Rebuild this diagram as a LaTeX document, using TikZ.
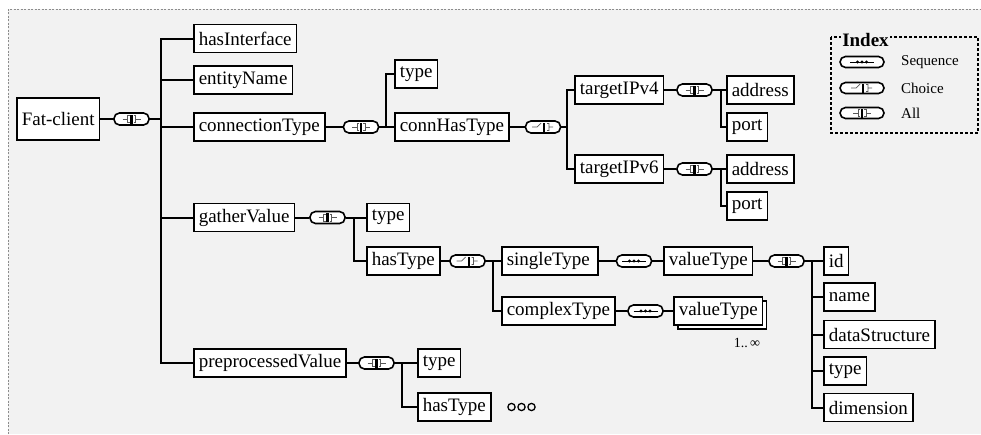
\documentclass[tikz,border=0pt]{standalone}
\usepackage{fontspec}
\setmainfont{Liberation Serif}
\usetikzlibrary{shadows}
\definecolor{diagBack}{HTML}{F2F2F2}
\definecolor{frameGray}{HTML}{8C8C8C}
\colorlet{glyphGray}{black!65}
\tikzset{
  elem/.style={draw, line width=1.6pt, fill=white, anchor=west, minimum height=28pt,
    inner xsep=5pt, inner ysep=2pt, font=\fontsize{19}{22}\selectfont},
  conn/.style={line width=2pt},
  compbox/.style={draw, line width=1.6pt, fill=white, rounded corners=5.5pt,
    minimum width=35pt, minimum height=12pt, inner sep=0pt},
  allsym/.style={compbox, path picture={
    \begin{scope}[shift={(path picture bounding box.center)}, sharp corners]
      \draw[line width=0.7pt, glyphGray] (-9,0) -- (-4,0) (4,0) -- (9,0)
        (-2,-3.5) -- (-4,-3.5) -- (-4,3.5) -- (-2,3.5)
        (2,-3.5) -- (4,-3.5) -- (4,3.5) -- (2,3.5);
      \fill[black] (-1.2,-4.5) rectangle (1.2,4.5);
    \end{scope}}},
  choicesym/.style={compbox, path picture={
    \begin{scope}[shift={(path picture bounding box.center)}, sharp corners]
      \draw[line width=0.7pt, glyphGray] (-11,0) -- (-6,0) -- (-2,-4)
        (4,-3.5) -- (6,-3.5) -- (6,3.5) -- (4,3.5) (6,0) -- (10,0);
      \fill[black] (0,-4.5) rectangle (2.4,4.5);
    \end{scope}}},
  seqsym/.style={compbox, path picture={
    \begin{scope}[shift={(path picture bounding box.center)}, sharp corners]
      \draw[line width=0.8pt] (-12,0) -- (12,0);
      \foreach \dx in {-4.5,0,4.5} \fill[black] (\dx,0) circle [radius=1.7];
    \end{scope}}},
  legtext/.style={anchor=west, inner sep=0pt, font=\fontsize{15}{17}\selectfont}
}

\begin{document}
\begin{tikzpicture}[x=1pt, y=-1pt]
  \useasboundingbox (0,0) rectangle (981,434);
  \fill[diagBack] (8,9) rectangle (981,434);
  \draw[frameGray, line width=0.8pt, dash pattern=on 2pt off 1.5pt] (8,434) -- (8,9) -- (981,9);

  % root and first level
  \node[elem, minimum height=42pt] (fatClient) at (16,119) {Fat-client};
  \node[allsym] (allRoot) at (131.5,119) {};
  \coordinate (brRoot) at (161,119);
  \node[elem] (hasInterface) at (193,38.5) {hasInterface};
  \node[elem] (entityName) at (193,80) {entityName};
  \node[elem] (connectionType) at (193,127) {connectionType};
  \node[elem] (gatherValue) at (193,217.5) {gatherValue};
  \node[elem] (preprocessedValue) at (193,363) {preprocessedValue};

  % connectionType
  \node[allsym] (allConn) at (361,127) {};
  \coordinate (brConn) at (386,127);
  \node[elem] (connTypeType) at (394,74) {type};
  \node[elem] (connHasType) at (394,127) {connHasType};
  \node[choicesym] (choiceConn) at (543,127) {};
  \coordinate (brChoice) at (567,127);
  \node[elem] (targetIPv4) at (574,90) {targetIPv4};
  \node[elem] (targetIPv6) at (574,169) {targetIPv6};
  \node[allsym] (allIPv4) at (694.5,90) {};
  \coordinate (brIPv4) at (721,90);
  \node[elem] (addressA) at (726,90) {address};
  \node[elem] (portA) at (726,127) {port};
  \node[allsym] (allIPv6) at (694.5,169) {};
  \coordinate (brIPv6) at (721,169);
  \node[elem] (addressB) at (726,169) {address};
  \node[elem] (portB) at (726,206) {port};

  % gatherValue
  \node[allsym] (allGather) at (327.5,217.5) {};
  \coordinate (brGather) at (354,217.5);
  \node[elem] (gatherType) at (366,217.5) {type};
  \node[elem] (gatherHasType) at (366,261) {hasType};
  \node[choicesym] (choiceGather) at (467.5,261) {};
  \coordinate (brHasType) at (493,261);
  \node[elem, text width=86pt, align=left] (singleType) at (501,261) {singleType};
  \node[elem] (complexType) at (501,311) {complexType};
  \node[seqsym] (seqSingle) at (634,261) {};
  \node[elem] (valueTypeA) at (663,261) {valueType};
  \node[seqsym] (seqComplex) at (645.5,311) {};
  \node[elem, copy shadow={shadow xshift=4pt, shadow yshift=-4pt, draw=black, fill=white, line width=1.6pt}]
    (valueTypeB) at (673,311) {valueType};
  \node[font=\fontsize{14}{16}\selectfont, inner sep=0pt] (multLabel) at (747,343) {1..\,∞};
  \node[allsym] (allValue) at (786.5,261) {};
  \coordinate (brValue) at (812,261);
  \node[elem] (valId) at (823,261) {id};
  \node[elem] (valName) at (823,297) {name};
  \node[elem] (valStruct) at (823,334.5) {dataStructure};
  \node[elem] (valType) at (823,371) {type};
  \node[elem] (valDim) at (823,407.5) {dimension};

  % preprocessedValue
  \node[allsym] (allPre) at (376.5,363) {};
  \coordinate (brPre) at (402,363);
  \node[elem] (preType) at (417,363) {type};
  \node[elem] (preHasType) at (417,407) {hasType};
  \foreach \cx in {511.5,521.5,531.5}
    \draw[line width=1.3pt] (\cx,407) circle [radius=3.6];

  % connectors
  \draw[conn] (fatClient.east) -- (allRoot.west);
  \draw[conn] (allRoot.east) -- (brRoot);
  \foreach \n in {hasInterface,entityName,connectionType,gatherValue,preprocessedValue}
    \draw[conn] (brRoot) |- (\n.west);
  \draw[conn] (connectionType.east) -- (allConn.west);
  \draw[conn] (allConn.east) -- (brConn);
  \foreach \n in {connTypeType,connHasType}
    \draw[conn] (brConn) |- (\n.west);
  \draw[conn] (connHasType.east) -- (choiceConn.west);
  \draw[conn] (choiceConn.east) -- (brChoice);
  \foreach \n in {targetIPv4,targetIPv6}
    \draw[conn] (brChoice) |- (\n.west);
  \draw[conn] (targetIPv4.east) -- (allIPv4.west);
  \draw[conn] (allIPv4.east) -- (brIPv4);
  \foreach \n in {addressA,portA}
    \draw[conn] (brIPv4) |- (\n.west);
  \draw[conn] (targetIPv6.east) -- (allIPv6.west);
  \draw[conn] (allIPv6.east) -- (brIPv6);
  \foreach \n in {addressB,portB}
    \draw[conn] (brIPv6) |- (\n.west);
  \draw[conn] (gatherValue.east) -- (allGather.west);
  \draw[conn] (allGather.east) -- (brGather);
  \foreach \n in {gatherType,gatherHasType}
    \draw[conn] (brGather) |- (\n.west);
  \draw[conn] (gatherHasType.east) -- (choiceGather.west);
  \draw[conn] (choiceGather.east) -- (brHasType);
  \foreach \n in {singleType,complexType}
    \draw[conn] (brHasType) |- (\n.west);
  \draw[conn] (singleType.east) -- (seqSingle.west);
  \draw[conn] (seqSingle.east) -- (valueTypeA.west);
  \draw[conn] (complexType.east) -- (seqComplex.west);
  \draw[conn] (seqComplex.east) -- (valueTypeB.west);
  \draw[conn] (valueTypeA.east) -- (allValue.west);
  \draw[conn] (allValue.east) -- (brValue);
  \foreach \n in {valId,valName,valStruct,valType,valDim}
    \draw[conn] (brValue) |- (\n.west);
  \draw[conn] (preprocessedValue.east) -- (allPre.west);
  \draw[conn] (allPre.east) -- (brPre);
  \foreach \n in {preType,preHasType}
    \draw[conn] (brPre) |- (\n.west);

  % index
  \draw[line width=1.2pt, dash pattern=on 3pt off 2pt] (831,37) rectangle (978,133);
  \node[fill=diagBack, inner sep=1pt, font=\bfseries\fontsize{19}{22}\selectfont] (indexTitle) at (865.5,40) {Index};
  \node[seqsym, minimum width=44pt, minimum height=11pt] (legSeq) at (862,62) {};
  \node[choicesym, minimum width=44pt, minimum height=11pt] (legChoice) at (862,88) {};
  \node[allsym, minimum width=44pt, minimum height=11pt] (legAll) at (862,113) {};
  \node[legtext] (legSeqText) at (901,62) {Sequence};
  \node[legtext] (legChoiceText) at (901,88) {Choice};
  \node[legtext] (legAllText) at (901,113) {All};
\end{tikzpicture}
\end{document}
